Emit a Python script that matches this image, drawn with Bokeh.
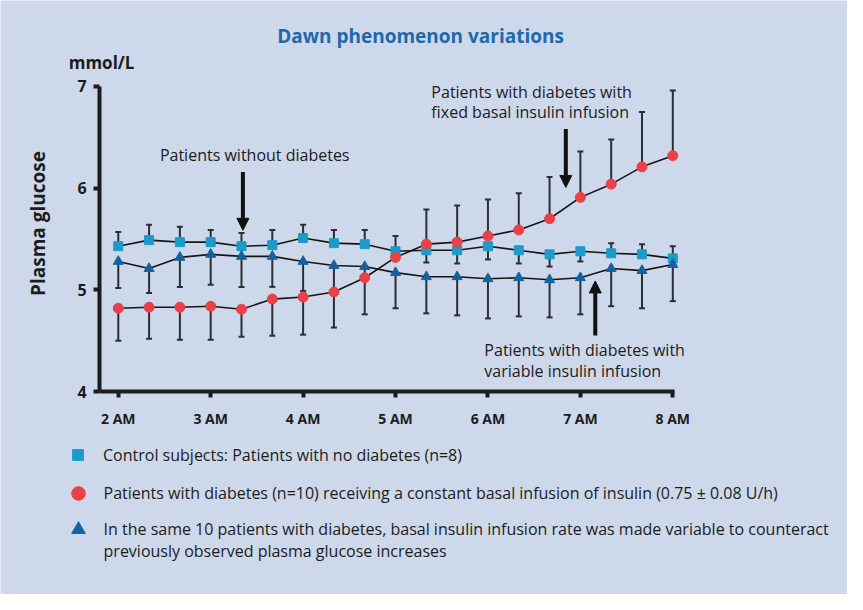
import math
from bokeh.plotting import figure
from bokeh.models import Range1d, Label, Arrow, NormalHead, Legend, LegendItem, FixedTicker
from bokeh.embed import file_html
from bokeh.resources import INLINE

# ---------------- data ----------------
times = ["2:00", "2:20", "2:40", "3:00", "3:20", "3:40", "4:00", "4:20", "4:40", "5:00",
         "5:20", "5:40", "6:00", "6:20", "6:40", "7:00", "7:20", "7:40", "8:00"]
control = [5.43, 5.49, 5.47, 5.47, 5.43, 5.44, 5.51, 5.46, 5.45, 5.38,
           5.39, 5.39, 5.43, 5.39, 5.35, 5.38, 5.36, 5.35, 5.31]
control_bar_end = [5.57, 5.64, 5.62, 5.59, 5.56, 5.59, 5.64, 5.59, 5.59, 5.53,
                   5.27, 5.26, 5.30, 5.26, 5.23, 5.28, 5.46, 5.45, 5.43]
fixed = [4.82, 4.83, 4.83, 4.84, 4.81, 4.91, 4.93, 4.98, 5.12, 5.32,
         5.45, 5.47, 5.53, 5.59, 5.70, 5.91, 6.04, 6.21, 6.32]
fixed_bar_end = [4.50, 4.52, 4.51, 4.51, 4.54, 4.55, 4.56, 4.63, 4.76, 5.32,
                 5.79, 5.83, 5.89, 5.95, 6.11, 6.36, 6.48, 6.75, 6.96]
variable = [5.28, 5.21, 5.32, 5.35, 5.33, 5.33, 5.28, 5.24, 5.23, 5.17,
            5.13, 5.13, 5.11, 5.12, 5.10, 5.12, 5.21, 5.19, 5.25]
variable_bar_end = [5.02, 4.97, 5.03, 5.05, 5.03, 5.03, 4.99, 4.99, 5.12, 4.82,
                    4.77, 4.75, 4.72, 4.74, 4.73, 4.76, 4.84, 4.82, 4.89]
hour_ticks = [2, 3, 4, 5, 6, 7, 8]
hour_labels = ["2 AM", "3 AM", "4 AM", "5 AM", "6 AM", "7 AM", "8 AM"]
y_ticks = [4, 5, 6, 7]
legend_labels = [
    "Control subjects: Patients with no diabetes (n=8)",
    "Patients with diabetes (n=10) receiving a constant basal infusion of insulin (0.75 \u00b1 0.08 U/h)",
    "In the same 10 patients with diabetes, basal insulin infusion rate was made variable to counteract",
]
legend_label_cont = "previously observed plasma glucose increases"

hours = [int(t.split(":")[0]) + int(t.split(":")[1]) / 60 for t in times]

# ---------------- layout helpers ----------------
# design grid is 863 x 610; the canvas is 847 x 594 and the frame fills it
W, H = 847, 594
RW, RH = 863, 610
X2_PX, X8_PX = 120, 685          # design pixels of 2 AM and 8 AM
Y4_PX, Y7_PX = 401.7, 88.3       # design pixels of 4 and 7 mmol/L
HPP = 6 / (X8_PX - X2_PX)        # hours per design pixel
VPP = 3 / (Y4_PX - Y7_PX)        # mmol/L per design pixel

def dx(px):
    return 2 + (px - X2_PX) * HPP

def dy(py):
    return 4 + (Y4_PX - py) * VPP

def fx(px):
    return px * W / RW

def fy(py):
    return py * H / RH

BG = "#cdd8ea"
INK = "#1c1c1c"
BAR = "#2a2e36"
SQ_C = "#1a9bc8"
RED_C = "#ea4048"
TRI_C = "#16619f"
FONT = "Open Sans"

p = figure(width=W, height=H, output_backend="svg", toolbar_location=None,
           x_range=Range1d(dx(0), dx(RW)), y_range=Range1d(dy(RH), dy(0)), title=None,
           min_border=0, min_border_left=0, min_border_right=0,
           min_border_top=0, min_border_bottom=0)
p.background_fill_color = BG
p.border_fill_color = BG
p.outline_line_color = None
p.grid.visible = False

# axes (drawn at fixed data locations, their lines bounded like the original)
xa, ya = p.xaxis[0], p.yaxis[0]
xa.fixed_location = 4
ya.fixed_location = dx(101)
xa.bounds = (dx(101), dx(687))
ya.bounds = (4, 7)
for ax in (xa, ya):
    ax.axis_line_width = 4
    ax.axis_line_color = INK
    ax.major_tick_line_width = 4
    ax.major_tick_line_color = INK
    ax.major_tick_out = 6
    ax.major_tick_in = 0
    ax.minor_tick_line_color = None
    ax.major_label_text_color = INK
    ax.major_label_text_font = FONT
    ax.major_label_text_font_style = "bold"
xa.ticker = FixedTicker(ticks=hour_ticks)
xa.major_label_overrides = {h: l for h, l in zip(hour_ticks, hour_labels)}
xa.major_label_text_font_size = "14px"
xa.major_label_standoff = 11
ya.ticker = FixedTicker(ticks=y_ticks)
ya.major_label_text_font_size = "16px"
ya.major_label_standoff = 7

# error bars
for vals, ends in ((control, control_bar_end), (fixed, fixed_bar_end), (variable, variable_bar_end)):
    p.segment(x0=hours, y0=vals, x1=hours, y1=ends, line_width=2, line_color=BAR)
    p.scatter(hours, ends, marker="dash", size=6, line_width=2, line_color=BAR)

# connecting lines
for vals in (control, variable, fixed):
    p.line(hours, vals, line_width=1.6, line_color="#151515")

# markers
r_sq = p.scatter(hours, control, marker="square", size=9, fill_color=SQ_C, line_color=SQ_C)
r_tri = p.scatter(hours, variable, marker="triangle", size=10, fill_color=TRI_C, line_color=TRI_C)
r_red = p.scatter(hours, fixed, marker="circle", size=10, fill_color=RED_C, line_color=RED_C)

# arrows
for (ax_px, y0_px, y1_px) in ((247, 176, 236), (576, 132, 192), (606, 344, 288)):
    p.add_layout(Arrow(end=NormalHead(size=12, fill_color="#111111", line_color="#111111"),
                       x_start=dx(ax_px), y_start=dy(y0_px), x_end=dx(ax_px), y_end=dy(y1_px),
                       line_width=4, line_color="#111111"))

def lab(text, px, py, size="16px", align="left", color=INK, style="normal", angle=0.0):
    p.add_layout(Label(x=dx(px), y=dy(py), text=text, text_font=FONT, text_font_size=size,
                       text_align=align, text_baseline="middle", text_color=color,
                       text_font_style=style, angle=angle))

# titles / labels
lab("Dawn phenomenon variations", 428, 36, size="19px", align="center", color="#1f69a8", style="bold")
lab("mmol/L", 103, 64, size="17px", align="center", style="bold")
lab("Plasma glucose", 38, 229, size="19px", align="center", style="bold", angle=math.pi / 2)

# annotations
lab("Patients without diabetes", 259, 159, align="center")
lab("Patients with diabetes with", 439, 94)
lab("fixed basal insulin infusion", 439, 115)
lab("Patients with diabetes with", 493, 359)
lab("variable insulin infusion", 493, 380)

# legends (one per series, positioned under the axis)
for renderer, text, yc, g in ((r_sq, legend_labels[0], 467, 27),
                              (r_red, legend_labels[1], 506, 34),
                              (r_tri, legend_labels[2], 543, 34)):
    leg = Legend(items=[LegendItem(label=text, renderers=[renderer])],
                 location=(fx(79) - g / 2, H - fy(yc) - g / 2),
                 glyph_width=g, glyph_height=g,
                 label_standoff=int(round(fx(105) - fx(79) - g / 2)),
                 padding=0, margin=0, spacing=0,
                 background_fill_alpha=0, border_line_alpha=0,
                 label_text_font=FONT, label_text_font_size="16px", label_text_color=INK)
    p.add_layout(leg)
lab(legend_label_cont, 105, 565)

open("out.html", "w").write(file_html(p, INLINE))
